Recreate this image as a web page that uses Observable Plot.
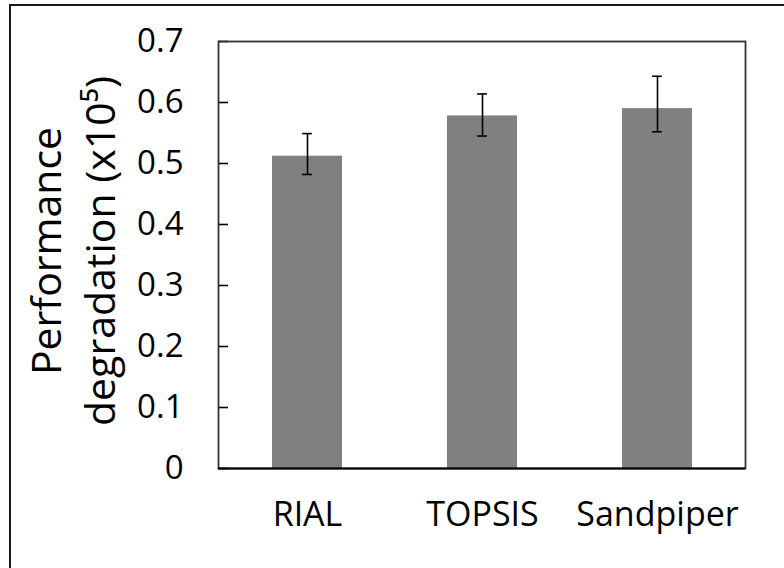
<!DOCTYPE html>
<html>
<head>
<meta charset="utf-8">
<script src="https://cdn.jsdelivr.net/npm/d3@7"></script>
<script src="https://cdn.jsdelivr.net/npm/@observablehq/plot@0.6"></script>
<style>
  body { margin: 0; background: #fff; overflow: hidden; }
  #wrap { position: relative; width: 784px; height: 568px; overflow: hidden; }
  #edge { position: absolute; left: 9px; top: 4px; width: 900px; height: 700px;
          border-left: 2px solid #1a1a1a; border-top: 2px solid #1a1a1a; pointer-events: none; }
  #wrap svg { display: block; }
</style>
</head>
<body>
<div id="wrap"><div id="edge"></div></div>
<script>
// Mean performance degradation per allocation method, with error-bar bounds
const methods = ["RIAL", "TOPSIS", "Sandpiper"];
const degradation = [0.512, 0.578, 0.590];
const errLow = [0.482, 0.545, 0.552];
const errHigh = [0.549, 0.614, 0.643];

const yTicks = [0, 0.1, 0.2, 0.3, 0.4, 0.5, 0.6, 0.7];
const yTickLabels = ["0", "0.1", "0.2", "0.3", "0.4", "0.5", "0.6", "0.7"];
const yTitle = "Performance\ndegradation (x10⁵)";

const rows = methods.map((m, i) => ({ method: m, value: degradation[i], lo: errLow[i], hi: errHigh[i] }));

const W = 784, H = 568;
const mL = 218, mR = 39, mT = 41, mB = 100;
const innerW = W - mL - mR;
const step = innerW / 3;
const capInset = (step * 0.4 - 10) / 2;
const font = "'Open Sans', sans-serif";

const chart = Plot.plot({
  width: W,
  height: H,
  marginLeft: mL,
  marginRight: mR,
  marginTop: mT,
  marginBottom: mB,
  style: { fontFamily: font, background: "white", color: "#000", overflow: "visible" },
  x: { domain: methods, paddingInner: 0.6, paddingOuter: 0.3, label: null },
  y: { domain: [0, 0.7], label: null },
  marks: [
    Plot.barY(rows, { x: "method", y: "value", fill: "#808080" }),
    Plot.ruleX(rows, { x: "method", y1: "lo", y2: "hi", stroke: "#000", strokeWidth: 1.6 }),
    Plot.tickY(rows, { x: "method", y: "lo", stroke: "#000", strokeWidth: 1.6, insetLeft: capInset, insetRight: capInset }),
    Plot.tickY(rows, { x: "method", y: "hi", stroke: "#000", strokeWidth: 1.6, insetLeft: capInset, insetRight: capInset }),
    Plot.ruleY(yTicks, { stroke: "#000", strokeWidth: 1.6, insetRight: innerW - 10 }),
    Plot.frame({ stroke: "#333", strokeWidth: 1.8 }),
    Plot.ruleY([0], { stroke: "#000", strokeWidth: 2 }),
    Plot.axisY({ ticks: yTicks, tickFormat: (d, i) => yTickLabels[i], tickSize: 0, tickPadding: 35, fontSize: 33, label: null }),
    Plot.axisX({ tickSize: 0, tickPadding: 33, fontSize: 34, label: null }),
    Plot.text([yTitle], { text: d => d, frameAnchor: "left", rotate: -90, dx: -148, dy: -4, fontSize: 41, lineHeight: 1.32, textAnchor: "middle", lineAnchor: "middle", fill: "#000" })
  ]
});

document.getElementById("wrap").appendChild(chart);
</script>
</body>
</html>
